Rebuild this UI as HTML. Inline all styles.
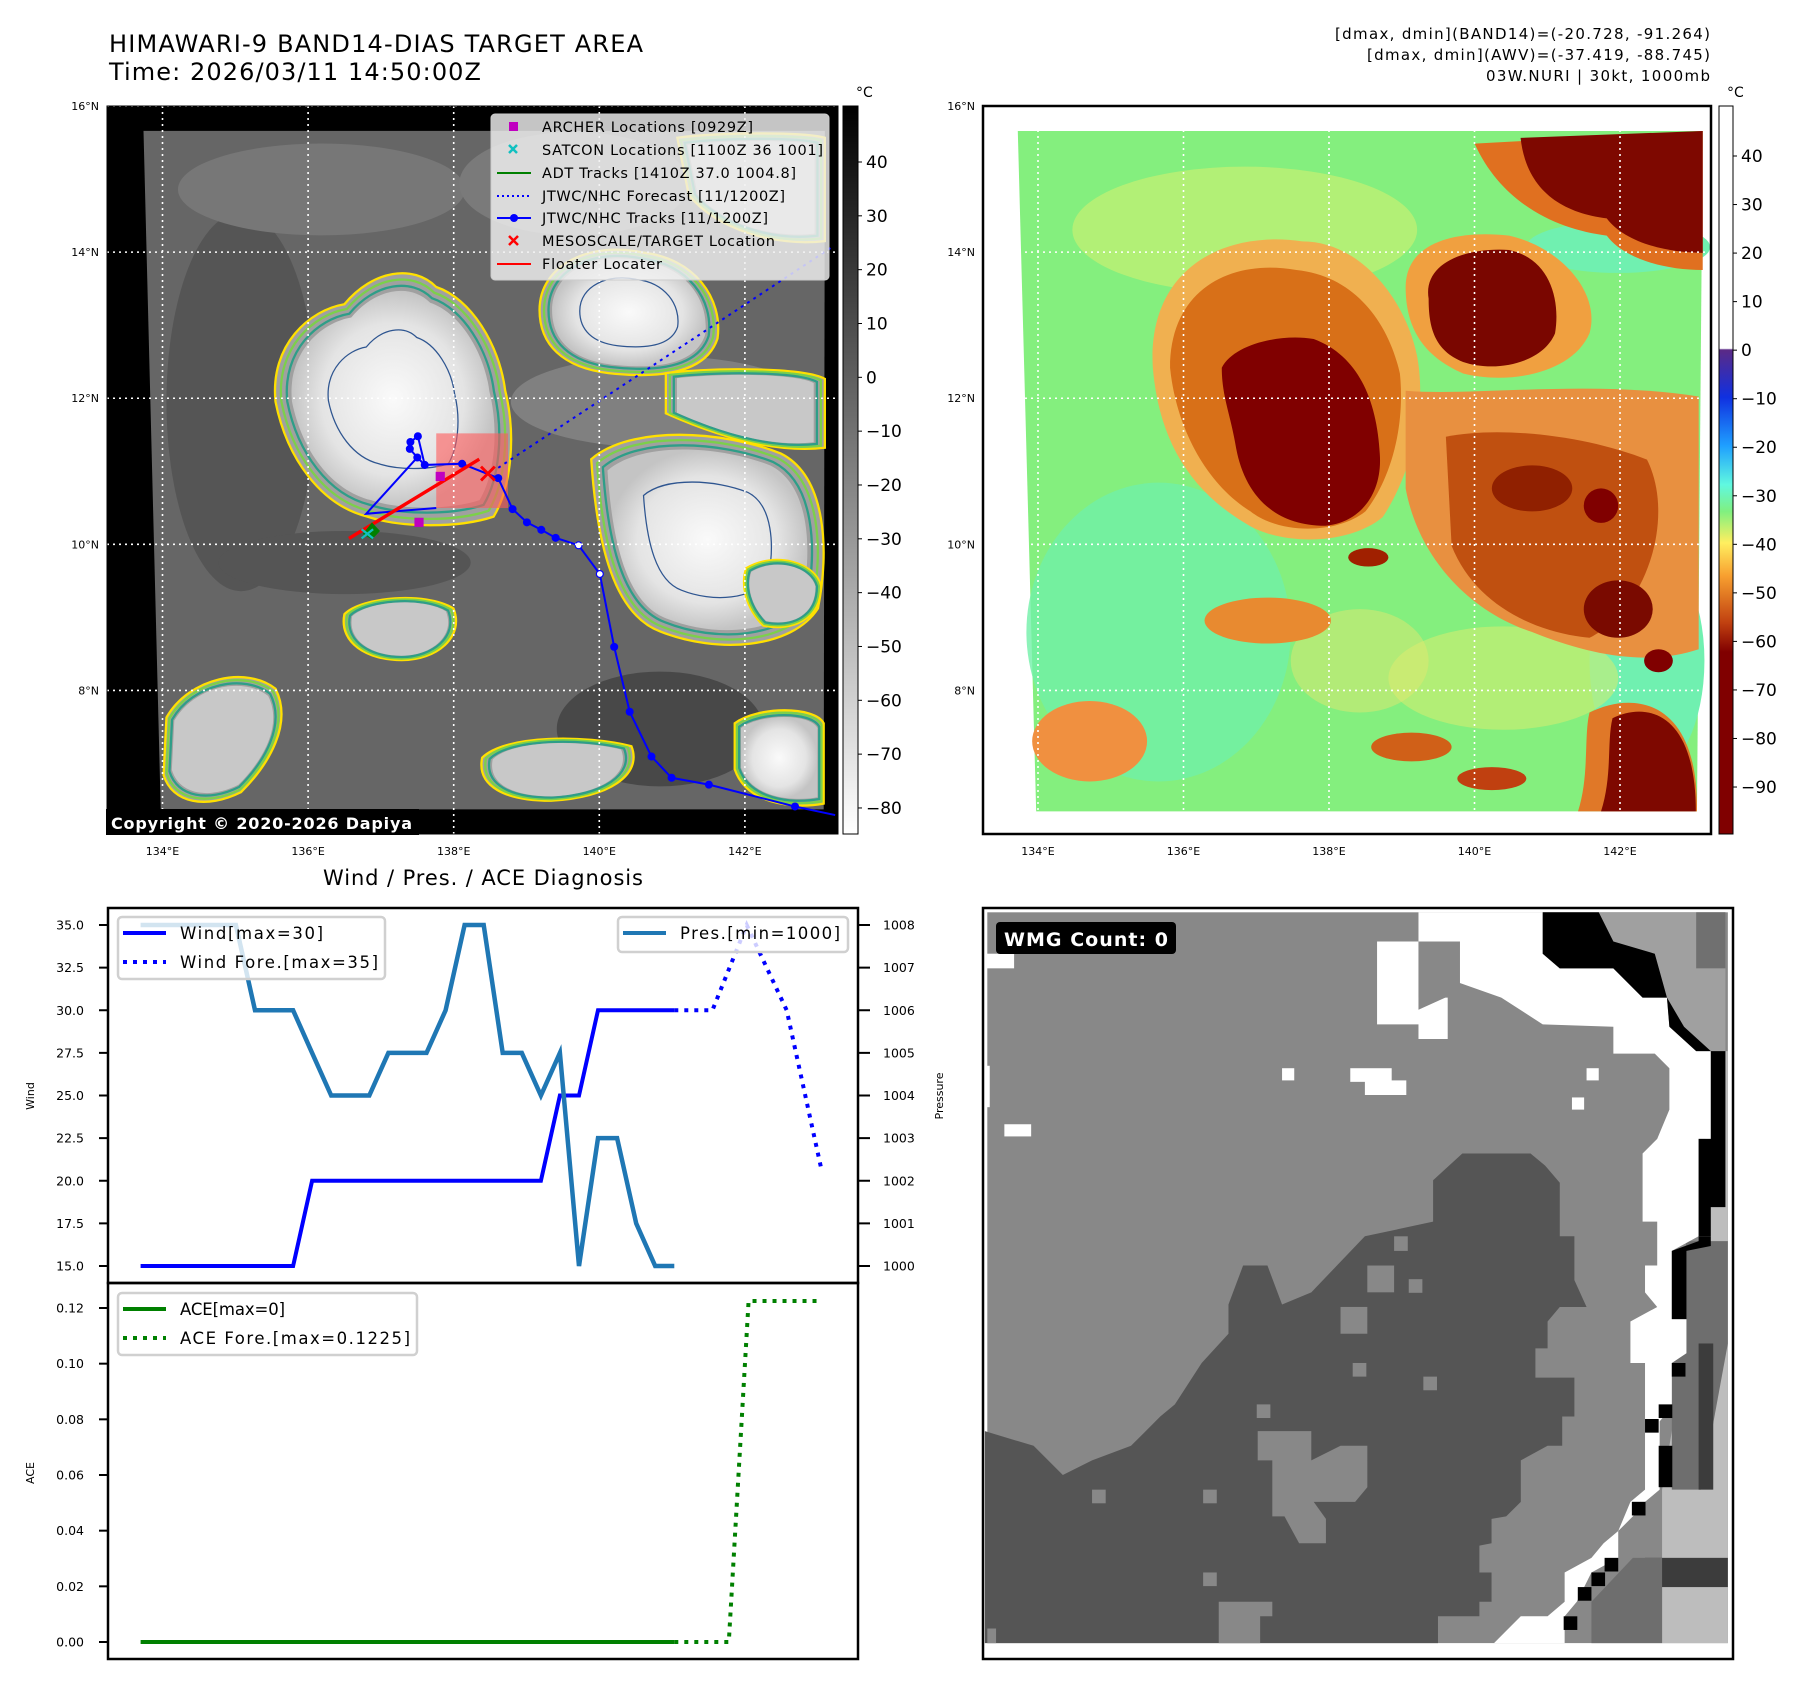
<!DOCTYPE html>
<html><head><meta charset="utf-8"><style>
html,body{margin:0;padding:0;background:#fff;}
svg{display:block;font-family:"DejaVu Sans","Liberation Sans",sans-serif;}
</style></head><body>
<svg id="fig" width="1801" height="1695" viewBox="0 0 1801 1695" xmlns="http://www.w3.org/2000/svg">
<defs>
<linearGradient id="gcb" x1="0" y1="0" x2="0" y2="1"><stop offset="0" stop-color="#000"/><stop offset="1" stop-color="#fff"/></linearGradient>
<linearGradient id="ccb" x1="0" y1="0" x2="0" y2="1">
<stop offset="0" stop-color="#fff"/><stop offset="0.333" stop-color="#fff"/><stop offset="0.335" stop-color="#5b2a86"/>
<stop offset="0.40" stop-color="#1030e0"/><stop offset="0.467" stop-color="#1fa0ff"/><stop offset="0.52" stop-color="#60f8e0"/>
<stop offset="0.557" stop-color="#80f080"/><stop offset="0.60" stop-color="#ffef60"/><stop offset="0.645" stop-color="#f8a030"/>
<stop offset="0.71" stop-color="#c04010"/><stop offset="0.75" stop-color="#800000"/><stop offset="1" stop-color="#800000"/></linearGradient>
<radialGradient id="wh"><stop offset="0" stop-color="#fafafa"/><stop offset="0.7" stop-color="#e4e4e4"/><stop offset="1" stop-color="#c4c4c4"/></radialGradient>
</defs>

<!-- ===== Titles ===== -->
<text x="109" y="52" font-size="24" textLength="534">HIMAWARI-9 BAND14-DIAS TARGET AREA</text>
<text x="109" y="80" font-size="24" textLength="372">Time: 2026/03/11 14:50:00Z</text>
<g font-size="15" text-anchor="end">
<text x="1710" y="39" textLength="375">[dmax, dmin](BAND14)=(-20.728, -91.264)</text>
<text x="1710" y="60" textLength="343">[dmax, dmin](AWV)=(-37.419, -88.745)</text>
<text x="1710" y="81" textLength="224">03W.NURI | 30kt, 1000mb</text>
</g>

<!-- ===== Top-left IR map ===== -->
<g>
<rect x="107" y="106" width="731" height="728" fill="#000"/>
<g transform="scale(0.574)">
<polygon points="250,228 1437,228 1435,1410 280,1410" fill="#666"/>
<ellipse cx="420" cy="700" rx="130" ry="330" fill="#555"/>
<ellipse cx="1150" cy="1270" rx="180" ry="100" fill="#484848"/>
<ellipse cx="600" cy="980" rx="220" ry="55" fill="#555"/>
<ellipse cx="560" cy="330" rx="250" ry="80" fill="#777"/>
<ellipse cx="1000" cy="320" rx="200" ry="90" fill="#7a7a7a"/>
<ellipse cx="1150" cy="700" rx="260" ry="80" fill="#808080"/>
<g id="tlblobs"></g>
</g>
</g>

<g transform="scale(0.574)">
<rect x="760" y="755" width="125" height="130" fill="rgba(255,90,90,0.6)"/>
<polyline points="1455,1420 1385,1405 1235,1367 1170,1355 1135,1318 1097,1240 1070,1127 1045,1000 1008,950 968,937 943,923 918,910 893,887 868,833 805,808 740,810 727,797 714,782 715,770 728,760 740,810" fill="none" stroke="#0000ff" stroke-width="3.5"/>
<polyline points="727,797 638,895 760,885" fill="none" stroke="#0000ff" stroke-width="3.5"/>
<g fill="#0000ff">
<circle cx="1385" cy="1405" r="7"/><circle cx="1235" cy="1367" r="7"/><circle cx="1170" cy="1355" r="7"/><circle cx="1135" cy="1318" r="7"/><circle cx="1097" cy="1240" r="7"/><circle cx="1070" cy="1127" r="7"/><circle cx="1045" cy="1000" r="6" fill="#fff" stroke="#00f" stroke-width="2"/><circle cx="1008" cy="950" r="6" fill="#fff" stroke="#00f" stroke-width="2"/><circle cx="968" cy="937" r="7"/><circle cx="943" cy="923" r="7"/><circle cx="918" cy="910" r="7"/><circle cx="893" cy="887" r="7"/><circle cx="868" cy="833" r="7"/><circle cx="805" cy="808" r="7"/><circle cx="740" cy="810" r="7"/><circle cx="727" cy="797" r="7"/><circle cx="714" cy="782" r="7"/><circle cx="715" cy="770" r="7"/><circle cx="728" cy="760" r="7"/>
</g>
<line x1="868" y1="815" x2="1450" y2="430" stroke="#0000ff" stroke-width="3.5" stroke-dasharray="5 8"/>
<line x1="608" y1="938" x2="835" y2="800" stroke="#ff0000" stroke-width="6"/>
<path d="M838,813 L862,837 M862,813 L838,837" stroke="#ff0000" stroke-width="5"/>
<rect x="759" y="822" width="16" height="16" fill="#c000c0"/><rect x="722" y="902" width="16" height="16" fill="#c000c0"/>
<path d="M632,930 L648,910 L662,925 L648,940Z" fill="#008000"/>
<path d="M630,922 L650,938 M650,922 L630,938" stroke="#10c0c0" stroke-width="4"/>
</g>

<g id="tlgrid" stroke="#fff" stroke-width="1.6" stroke-dasharray="2 4"></g>

<g>
<rect x="491" y="114" width="338" height="166" rx="4" fill="#f0f0f0" fill-opacity="0.82" stroke="#ccc"/>
<g font-size="14.5">
<rect x="509" y="122" width="9" height="9" fill="#c000c0"/><text x="542" y="132" textLength="211">ARCHER Locations [0929Z]</text>
<path d="M509,145 L517,153 M517,145 L509,153" stroke="#10c0c0" stroke-width="2.5"/><text x="542" y="155" textLength="281">SATCON Locations [1100Z 36 1001]</text>
<line x1="497" y1="173" x2="531" y2="173" stroke="#008000" stroke-width="2"/><text x="542" y="178" textLength="254">ADT Tracks [1410Z 37.0 1004.8]</text>
<line x1="497" y1="196" x2="531" y2="196" stroke="#0000ff" stroke-width="2" stroke-dasharray="2 3"/><text x="542" y="201" textLength="243">JTWC/NHC Forecast [11/1200Z]</text>
<line x1="497" y1="218" x2="531" y2="218" stroke="#0000ff" stroke-width="2"/><circle cx="514" cy="218" r="4" fill="#00f"/><text x="542" y="223" textLength="226">JTWC/NHC Tracks [11/1200Z]</text>
<path d="M509,236 L518,245 M518,236 L509,245" stroke="#ff0000" stroke-width="2.5"/><text x="542" y="246" textLength="233">MESOSCALE/TARGET Location</text>
<line x1="497" y1="264" x2="531" y2="264" stroke="#ff0000" stroke-width="2"/><text x="542" y="269" textLength="120">Floater Locater</text>
</g></g>
<rect x="106" y="809" width="313" height="26" fill="#000"/>
<text x="111" y="829" font-size="16" font-weight="bold" fill="#fff" textLength="301">Copyright © 2020-2026 Dapiya</text>
<rect x="107" y="106" width="731" height="728" fill="none" stroke="#000" stroke-width="1"/>

<rect x="843" y="106" width="15" height="728" fill="url(#gcb)" stroke="#000" stroke-width="1"/>
<text x="856" y="97" font-size="14">°C</text>
<g id="tlcb" font-size="17"></g>

<!-- ===== Top-right AWV map ===== -->
<g>
<rect x="983" y="106" width="728" height="728" fill="#fff"/>
<g transform="translate(900,0) scale(0.5746)">
<polygon points="205,228 1397,228 1387,1412 237,1412" fill="#84ef7e"/>
<ellipse cx="450" cy="1100" rx="230" ry="260" fill="#70f0a8" opacity="0.8"/>
<ellipse cx="1250" cy="430" rx="160" ry="45" fill="#70f0b0"/>
<ellipse cx="1300" cy="1150" rx="100" ry="200" fill="#70f0b0"/>
<ellipse cx="600" cy="400" rx="300" ry="110" fill="#d8f070" opacity="0.55"/>
<ellipse cx="1050" cy="1180" rx="200" ry="90" fill="#d8ec70" opacity="0.55"/>
<ellipse cx="800" cy="1150" rx="120" ry="90" fill="#e0e870" opacity="0.5"/>
<path d="M440,640 C430,470 560,400 700,420 C800,420 880,520 900,620 C920,730 880,840 840,900 C780,950 660,950 600,910 C500,850 450,760 440,640Z" fill="#f0b050"/>
<path d="M470,640 C470,500 580,450 690,470 C790,480 850,560 870,650 C880,750 850,840 810,890 C760,930 660,930 610,890 C530,840 480,740 470,640Z" fill="#d87018"/>
<path d="M560,640 C580,600 660,580 720,590 C800,620 830,700 835,790 C840,860 800,910 740,915 C650,915 600,860 585,780 C575,720 560,690 560,640Z" fill="#800000"/>
<path d="M880,500 C880,420 970,400 1060,410 C1150,430 1220,510 1200,580 C1170,650 1060,670 980,650 C910,620 880,570 880,500Z" fill="#f0a040"/>
<path d="M920,520 C910,460 980,430 1060,435 C1130,450 1150,520 1140,580 C1120,630 1040,650 980,630 C930,610 920,570 920,520Z" fill="#7a0600"/>
<path d="M1000,250 L1397,228 L1397,470 C1330,470 1260,450 1230,410 C1150,400 1050,360 1000,250Z" fill="#e07020"/>
<path d="M1080,240 L1397,228 L1397,440 C1330,440 1260,420 1230,380 C1150,370 1090,330 1080,240Z" fill="#7e0800"/>
<path d="M880,680 C1000,690 1200,660 1390,690 L1390,1130 C1300,1160 1200,1140 1100,1100 C980,1060 900,960 880,850Z" fill="#e89040"/>
<path d="M950,760 C1050,740 1200,760 1300,800 C1350,900 1300,1060 1200,1110 C1100,1100 1000,1050 960,950Z" fill="#c05010"/>
<ellipse cx="1250" cy="1060" rx="60" ry="50" fill="#7a0a00"/>
<ellipse cx="1100" cy="850" rx="70" ry="40" fill="#902000"/>
<ellipse cx="1220" cy="880" rx="30" ry="30" fill="#800000"/>
<ellipse cx="1320" cy="1150" rx="25" ry="20" fill="#800000"/>
<path d="M1200,1240 C1280,1200 1390,1220 1387,1412 L1180,1412 C1200,1350 1190,1280 1200,1240Z" fill="#e07828"/>
<path d="M1240,1250 C1300,1220 1385,1240 1385,1412 L1220,1412 C1240,1350 1230,1290 1240,1250Z" fill="#7e0800"/>
<ellipse cx="330" cy="1290" rx="100" ry="70" fill="#f09040"/>
<ellipse cx="640" cy="1080" rx="110" ry="40" fill="#e88a30"/>
<ellipse cx="890" cy="1300" rx="70" ry="25" fill="#d06018"/>
<ellipse cx="815" cy="970" rx="35" ry="16" fill="#a02000"/>
<ellipse cx="1030" cy="1355" rx="60" ry="20" fill="#c04010"/>
</g>
</g>
<g id="trgrid" stroke="#fff" stroke-width="1.6" stroke-dasharray="2 4"></g>
<rect x="983" y="106" width="728" height="728" fill="none" stroke="#000" stroke-width="2.5"/>
<rect x="1719" y="106" width="14" height="728" fill="url(#ccb)" stroke="#000" stroke-width="1"/>
<text x="1727" y="97" font-size="14">°C</text>
<g id="trcb" font-size="17"></g>
<g id="axlabels" font-size="11"></g>

<!-- ===== Bottom-right WMG ===== -->
<g>
<rect x="983" y="908" width="750" height="751" fill="#fff"/>
<g transform="translate(980,905) scale(0.4872)">
<rect x="15" y="15" width="1520" height="1500" fill="#888"/>
<rect x="10" y="100" width="60" height="30" fill="#fff"/>
<path d="M1270,15 L1530,15 L1530,300 L1500,300 L1445,250 L1410,190 L1385,100 L1300,75Z" fill="#a0a0a0"/>
<rect x="1470" y="15" width="60" height="115" fill="#707070"/>
<path d="M1500,300 L1535,300 L1535,1515 L1400,1515 L1400,1200 L1450,900 L1475,700Z" fill="#bdbdbd"/>
<path d="M1450,690 L1535,690 L1535,900 L1480,1200 L1420,1200 L1420,900Z" fill="#6e6e6e"/>
<rect x="1475" y="900" width="30" height="300" fill="#3c3c3c"/>
<rect x="1365" y="1340" width="170" height="60" fill="#3c3c3c"/>
<path d="M1255,1515 L1255,1430 L1340,1340 L1400,1340 L1400,1515Z" fill="#6e6e6e"/>
<path d="M10,1080 L110,1110 L140,1140 L170,1170 L230,1140 L310,1110 L370,1050 L400,1025 L455,940 L510,880 L510,820 L540,740 L590,740 L620,820 L680,795 L790,680 L930,650 L930,565 L990,510 L1130,510 L1160,535 L1190,570 L1190,680 L1220,680 L1220,770 L1245,825 L1190,825 L1165,855 L1165,910 L1140,910 L1140,970 L1220,970 L1220,1050 L1195,1050 L1195,1110 L1165,1110 L1110,1140 L1110,1225 L1080,1255 L1050,1260 L1050,1310 L1025,1315 L1025,1370 L1050,1370 L1050,1430 L1025,1430 L1025,1460 L940,1460 L940,1515 L10,1515Z" fill="#555"/>
<path d="M570,1080 L680,1080 L680,1140 L740,1110 L795,1110 L795,1195 L770,1225 L685,1225 L710,1260 L710,1310 L655,1310 L625,1255 L600,1255 L600,1140 L570,1140Z" fill="#888"/>
<path d="M490,1430 L600,1430 L600,1460 L575,1460 L575,1515 L490,1515Z" fill="#888"/>
<rect x="15" y="1485" width="18" height="30" fill="#888"/>
<g fill="#888"><rect x="230" y="1200" width="28" height="28"/><rect x="458" y="1200" width="28" height="28"/><rect x="458" y="1370" width="28" height="28"/><rect x="568" y="1025" width="28" height="28"/><rect x="765" y="940" width="28" height="28"/><rect x="910" y="968" width="28" height="28"/><rect x="740" y="825" width="55" height="55"/><rect x="795" y="740" width="55" height="55"/><rect x="880" y="768" width="28" height="28"/><rect x="850" y="680" width="28" height="30"/></g>
<path d="M900,15 L900,75 L985,75 L985,160 L1070,190 L1155,245 L1300,250 L1300,305 L1385,305 L1415,335 L1415,420 L1390,480 L1360,510 L1360,650 L1390,650 L1390,740 L1365,740 L1365,795 L1390,825 L1335,855 L1335,940 L1365,940 L1365,1200 L1335,1225 L1310,1285 L1280,1310 L1255,1340 L1200,1370 L1200,1430 L1165,1460 L1110,1460 L1080,1490 L1055,1515 L1200,1515 L1200,1460 L1225,1430 L1255,1370 L1310,1340 L1310,1285 L1340,1255 L1365,1225 L1395,1200 L1395,1060 L1420,1030 L1420,940 L1450,920 L1450,850 L1420,850 L1420,710 L1475,680 L1475,480 L1500,480 L1500,300 L1470,300 L1415,250 L1410,190 L1360,190 L1300,130 L1190,130 L1155,100 L1155,15Z" fill="#fff"/>
<path d="M815,75 L900,75 L900,245 L815,245Z M900,190 L960,190 L960,275 L900,275Z" fill="#fff"/>
<path d="M900,75 L985,75 L985,160 L955,190 L900,215Z" fill="#888"/>
<g fill="#fff"><rect x="620" y="335" width="25" height="25"/><rect x="760" y="335" width="85" height="28"/><rect x="790" y="360" width="85" height="30"/><rect x="50" y="450" width="55" height="25"/><rect x="1245" y="335" width="25" height="25"/><rect x="1215" y="395" width="25" height="25"/><rect x="10" y="330" width="10" height="85"/></g>
<path d="M1155,15 L1270,15 L1300,75 L1385,100 L1410,190 L1445,250 L1500,300 L1530,300 L1530,620 L1500,620 L1500,680 L1475,680 L1475,480 L1500,480 L1500,300 L1470,300 L1415,250 L1410,190 L1360,190 L1300,130 L1190,130 L1155,100Z" fill="#000"/>
<path d="M1475,680 L1500,680 L1500,700 L1450,710 L1450,850 L1420,850 L1420,710 L1475,690Z" fill="#000"/>
<g fill="#000"><rect x="1420" y="940" width="28" height="28"/><rect x="1393" y="1025" width="28" height="28"/><rect x="1365" y="1055" width="28" height="28"/><rect x="1393" y="1110" width="28" height="85"/><rect x="1338" y="1225" width="28" height="28"/><rect x="1282" y="1340" width="28" height="28"/><rect x="1255" y="1370" width="28" height="28"/><rect x="1227" y="1400" width="28" height="28"/><rect x="1198" y="1460" width="28" height="28"/></g>
</g>
<rect x="983" y="908" width="750" height="751" fill="none" stroke="#000" stroke-width="2.5"/>
<rect x="996" y="922" width="180" height="32" rx="4" fill="#000"/>
<text x="1004" y="946" font-size="19" font-weight="bold" fill="#fff" textLength="164">WMG Count: 0</text>
</g>

<!-- ===== Bottom-left charts ===== -->
<text x="483" y="885" font-size="21" text-anchor="middle" textLength="320">Wind / Pres. / ACE Diagnosis</text>
<g id="charts"></g>
</svg>

<script>
const obsIdx = [0,1,2,3,4,5,6,7,8,9,10,11,12,13,14,15,16,17,18,19,20,21,22,23,24,25,26,27,28];
const windObs = [15,15,15,15,15,15,15,15,15,20,20,20,20,20,20,20,20,20,20,20,20,20,25,25,30,30,30,30,30];
const presObs = [1008,1008,1008,1008,1008,1008,1006,1006,1006,1005,1004,1004,1004,1005,1005,1005,1006,1008,1008,1005,1005,1004,1005,1000,1003,1003,1001,1000,1000];
const windForeIdx = [28,30,31.8,33.9,35.75];
const windFore = [30,30,35,30,20.5];
const aceObs = [0,0,0,0,0,0,0,0,0,0,0,0,0,0,0,0,0,0,0,0,0,0,0,0,0,0,0,0,0];
const aceForeIdx = [28,30.86,31.9,35.75];
const aceFore = [0,0,0.1225,0.1225];
const windTicks = [15,17.5,20,22.5,25,27.5,30,32.5,35];
const presTicks = [1000,1001,1002,1003,1004,1005,1006,1007,1008];
const aceTicks = [0,0.02,0.04,0.06,0.08,0.10,0.12];
const lonTicks = [134,136,138,140,142];
const latTicks = [8,10,12,14,16];
const irCbTicks = [40,30,20,10,0,-10,-20,-30,-40,-50,-60,-70,-80];
const awvCbTicks = [40,30,20,10,0,-10,-20,-30,-40,-50,-60,-70,-80,-90];

const NS='http://www.w3.org/2000/svg';
function mk(tag, attrs, parent, txt){const e=document.createElementNS(NS,tag);for(const k in attrs)e.setAttribute(k,attrs[k]);if(txt!==undefined)e.textContent=txt;parent.appendChild(e);return e;}
const xS = i => 140.6 + i*19.06;
const yW = v => 1266 - (v-15)*(341/20);
const yP = p => 1266 - (p-1000)*(341/8);
const yA = a => 1642 - a*(334/0.12);
const fmtM = v => String(v).replace('-','\u2212');

const ch = document.getElementById('charts');
let f1 = mk('rect',{x:108,y:908,width:750,height:375,fill:'none',stroke:'#000','stroke-width':2.5},ch);


let f2 = mk('rect',{x:108,y:1283,width:750,height:376,fill:'none',stroke:'#000','stroke-width':2.5},ch);


windTicks.forEach(t=>{const y=yW(t);mk('line',{x1:99,y1:y,x2:108,y2:y,stroke:'#000','stroke-width':2},ch);
 const tx=mk('text',{x:84,y:y+4.5,'font-size':12.5,'text-anchor':'end'},ch,t.toFixed(1));
 
 });
presTicks.forEach(t=>{const y=yP(t);mk('line',{x1:858,y1:y,x2:870,y2:y,stroke:'#000','stroke-width':2},ch);
 const tx=mk('text',{x:883,y:y+4.5,'font-size':12.5},ch,String(t));
 
 });
aceTicks.forEach(t=>{const y=yA(t);mk('line',{x1:99,y1:y,x2:108,y2:y,stroke:'#000','stroke-width':2},ch);
 const tx=mk('text',{x:84,y:y+4.5,'font-size':12.5,'text-anchor':'end'},ch,t.toFixed(2));
 
 });
let yl1=mk('text',{x:34,y:1096,'font-size':11,'text-anchor':'middle',transform:'rotate(-90 34 1096)'},ch,'Wind');


let yl2=mk('text',{x:943,y:1096,'font-size':11,'text-anchor':'middle',transform:'rotate(-90 943 1096)'},ch,'Pressure');


let yl3=mk('text',{x:34,y:1473,'font-size':11,'text-anchor':'middle',transform:'rotate(-90 34 1473)'},ch,'ACE');


function pts(ix, vals, yf){return ix.map((i,k)=>xS(i).toFixed(1)+','+yf(vals[k]).toFixed(1)).join(' ');}
let l;
l=mk('polyline',{points:pts(obsIdx,windObs,yW),fill:'none',stroke:'#0000ff','stroke-width':4},ch);


l=mk('polyline',{points:pts(windForeIdx,windFore,yW),fill:'none',stroke:'#0000ff','stroke-width':4,'stroke-dasharray':'4 6'},ch);


l=mk('polyline',{points:pts(obsIdx,presObs,yP),fill:'none',stroke:'#1f77b4','stroke-width':4.5},ch);


l=mk('polyline',{points:pts(obsIdx,aceObs,yA),fill:'none',stroke:'#008000','stroke-width':4},ch);


l=mk('polyline',{points:pts(aceForeIdx,aceFore,yA),fill:'none',stroke:'#008000','stroke-width':4,'stroke-dasharray':'4 6'},ch);


function legend(name,x,y,w,h,items){const g=mk('g',{},ch);
 mk('rect',{x:x,y:y,width:w,height:h,rx:4,fill:'#fff','fill-opacity':0.8,stroke:'#d0d0d0','stroke-width':2.5},g);
 items.forEach((it,k)=>{const cy=y+16+k*29;mk('line',{x1:x+5,y1:cy,x2:x+48,y2:cy,stroke:it.c,'stroke-width':4,'stroke-dasharray':it.d||'none'},g);
 mk('text',{x:x+62,y:cy+6,'font-size':16.5,textLength:it.w},g,it.t);});}
legend('wind-legend',118,917,267,62,[{c:'#0000ff',t:'Wind[max=30]',w:143},{c:'#0000ff',d:'4 6',t:'Wind Fore.[max=35]',w:198}]);
legend('pressure-legend',618,917,230,35,[{c:'#1f77b4',t:'Pres.[min=1000]',w:160}]);
legend('ace-legend',118,1293,299,62,[{c:'#008000',t:'ACE[max=0]',w:105},{c:'#008000',d:'4 6',t:'ACE Fore.[max=0.1225]',w:230}]);

const xL = lon => 162.5 + (lon-134)*72.8;
const xR = lon => 1038 + (lon-134)*72.75;
const yM = lat => 106 + (16-lat)*73.06;
const tg=document.getElementById('tlgrid'), rg=document.getElementById('trgrid'), ax=document.getElementById('axlabels');
lonTicks.forEach(lon=>{
 mk('line',{x1:xL(lon),y1:106,x2:xL(lon),y2:834},tg);
 mk('line',{x1:xR(lon),y1:106,x2:xR(lon),y2:834},rg);
 let a=mk('text',{x:xL(lon),y:855,'text-anchor':'middle'},ax,lon+'°E');
 
 
 let b=mk('text',{x:xR(lon),y:855,'text-anchor':'middle'},ax,lon+'°E');
 
 
});
latTicks.forEach(lat=>{
 mk('line',{x1:107,y1:yM(lat),x2:838,y2:yM(lat)},tg);
 mk('line',{x1:983,y1:yM(lat),x2:1711,y2:yM(lat)},rg);
 let a=mk('text',{x:99,y:yM(lat)+4,'text-anchor':'end'},ax,lat+'°N');
 
 
 let b=mk('text',{x:975,y:yM(lat)+4,'text-anchor':'end'},ax,lat+'°N');
 
 
});
const tlc=document.getElementById('tlcb');
irCbTicks.forEach(v=>{const y=162+(40-v)*5.383;mk('line',{x1:858,y1:y,x2:862,y2:y,stroke:'#000'},tlc);
 const t=mk('text',{x:866,y:y+6},tlc,fmtM(v));
 
 });
const trc=document.getElementById('trcb');
awvCbTicks.forEach(v=>{const y=156+(40-v)*4.854;mk('line',{x1:1733,y1:y,x2:1737,y2:y,stroke:'#000'},trc);
 const t=mk('text',{x:1741,y:y+6},trc,fmtM(v));
 
 });

const blobs = [
 'M480,700 C470,600 540,540 600,530 C650,470 720,460 760,500 C820,520 870,600 880,680 C900,760 890,850 860,900 C800,920 700,920 640,900 C560,880 500,800 480,700Z',
 'M940,540 C940,460 1030,420 1120,440 C1210,450 1260,520 1250,590 C1230,650 1150,660 1060,650 C980,640 940,600 940,540Z',
 'M1030,800 C1100,740 1260,750 1360,790 C1440,830 1445,960 1425,1060 C1380,1130 1250,1140 1150,1100 C1070,1070 1040,950 1030,800Z',
 'M1160,650 C1250,640 1400,640 1437,660 L1437,780 C1350,790 1250,760 1160,720Z',
 'M1280,1260 C1320,1230 1420,1230 1435,1260 L1435,1400 C1380,1410 1300,1400 1280,1340Z',
 'M290,1250 C330,1180 430,1160 480,1200 C510,1260 470,1330 420,1380 C360,1410 300,1400 285,1350Z',
 'M600,1070 C630,1040 740,1030 790,1060 C810,1110 760,1150 700,1150 C640,1150 590,1120 600,1070Z',
 'M840,1320 C880,1280 1020,1280 1100,1300 C1120,1350 1060,1390 960,1395 C880,1395 830,1370 840,1320Z',
 'M1300,990 C1350,960 1420,980 1430,1020 C1430,1080 1380,1100 1330,1090 C1300,1060 1290,1020 1300,990Z',
 'M1180,240 C1260,230 1400,230 1437,240 L1437,420 C1350,430 1250,400 1200,340Z'
];
const bg = document.getElementById('tlblobs');
const cfg=[{s:1.0,c:'#ffe000'},{s:0.95,c:'#7cd04a'},{s:0.9,c:'#2e9e88'}];
blobs.forEach((d,k)=>{
 const tmp=mk('path',{d:d},bg);const bb=tmp.getBBox();bg.removeChild(tmp);
 const cx=bb.x+bb.width/2, cy=bb.y+bb.height/2;
 mk('path',{d:d,fill:'#a0a0a0'},bg);
 cfg.forEach(c=>{mk('path',{d:d,fill:'none',stroke:c.c,'stroke-width':4/c.s,transform:`translate(${cx},${cy}) scale(${c.s}) translate(${-cx},${-cy})`},bg);});
 mk('path',{d:d,fill:(k<3||k===4)?'url(#wh)':'#c8c8c8',transform:`translate(${cx},${cy}) scale(0.86) translate(${-cx},${-cy})`},bg);
 if(k<3){mk('path',{d:d,fill:'none',stroke:'#2e5590','stroke-width':4,transform:`translate(${cx},${cy}) scale(0.55) translate(${-cx},${-cy})`},bg);}
});
</script>
</body></html>
